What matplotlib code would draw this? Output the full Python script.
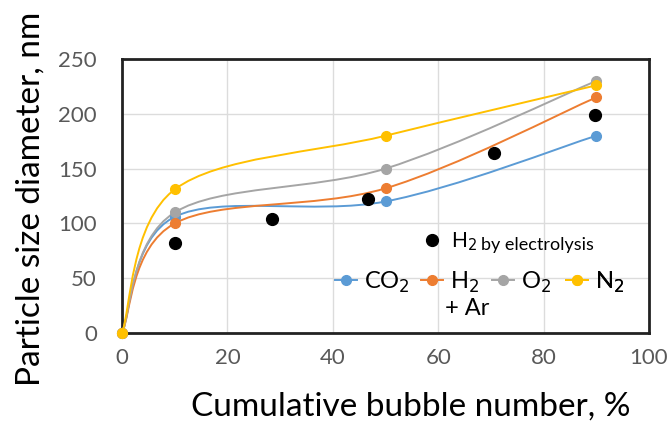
import matplotlib
matplotlib.use("Agg")
import matplotlib.pyplot as plt
import numpy as np
from matplotlib.path import Path
from matplotlib.patches import PathPatch
from matplotlib.lines import Line2D

plt.rcParams['font.family'] = ['Lato', 'DejaVu Sans']

# Data
x_gas = [0, 10, 50, 90]
co2 = [0, 106, 120, 180]
h2_ar = [0, 100, 132, 215]
o2 = [0, 110, 150, 230]
n2 = [0, 131, 180, 226]
x_elec = [10.0, 28.5, 46.6, 70.6, 89.8]
h2_elec = [82, 104, 122, 164, 199]

series = [("CO$_2$", co2, "#5B9BD5"), ("H$_2$", h2_ar, "#ED7D31"),
          ("O$_2$", o2, "#A5A5A5"), ("N$_2$", n2, "#FFC000")]

x_ticks = [0, 20, 40, 60, 80, 100]
y_ticks = [0, 50, 100, 150, 200, 250]


def smooth_path(xs, ys):
    pts = np.column_stack([xs, ys]).astype(float)
    n = len(pts)
    verts = [pts[0]]
    codes = [Path.MOVETO]
    for i in range(n - 1):
        p0 = pts[i - 1] if i > 0 else pts[i]
        p1 = pts[i]
        p2 = pts[i + 1]
        p3 = pts[i + 2] if i + 2 < n else pts[i + 1]
        c1 = p1 + (p2 - p0) / 6.0
        c2 = p2 - (p3 - p1) / 6.0
        verts += [c1, c2, p2]
        codes += [Path.CURVE4] * 3
    return Path(verts, codes)


fig = plt.figure(figsize=(6.72, 4.34), dpi=100)
ax = fig.add_axes([122 / 672, 101 / 434, 527 / 672, 274 / 434])

for label, ys, c in series:
    ax.add_patch(PathPatch(smooth_path(x_gas, ys), facecolor='none',
                           edgecolor=c, lw=1.4, zorder=3))
    ax.plot(x_gas, ys, 'o', color=c, ms=7, zorder=4, clip_on=False)

ax.plot(x_elec, h2_elec, 'o', color='black', ms=8.5, zorder=5)

ax.set_xlim(0, 100)
ax.set_ylim(0, 250)
ax.set_xticks(x_ticks)
ax.set_yticks(y_ticks)
ax.grid(True, color='#DCDCDC', lw=1)
ax.set_axisbelow(True)
ax.tick_params(length=0, labelsize=16, labelcolor='#595959')
ax.tick_params(axis='y', pad=18)
ax.tick_params(axis='x', pad=11)
for s in ax.spines.values():
    s.set_color('#222222')
    s.set_linewidth(2)

ax.set_xlabel("Cumulative bubble number, %", fontsize=24)
ax.xaxis.set_label_coords(0.547, -0.215)
ax.set_ylabel("Particle size diameter, nm", fontsize=24)
ax.yaxis.set_label_coords(-0.145, 0.49)

# legend: electrolysis
h_el = Line2D([], [], marker='o', color='black', ls='none', ms=8.5)
leg1 = ax.legend([h_el], ["H$_2$"], loc='center left',
                 bbox_to_anchor=(0.573, 0.332), frameon=False, fontsize=15,
                 handletextpad=0.5, handlelength=0.8, borderpad=0,
                 borderaxespad=0)
ax.add_artist(leg1)
ax.annotate("by electrolysis", xy=(1, 0), xycoords=leg1.get_texts()[0],
            xytext=(3, 0), textcoords='offset points', fontsize=13,
            ha='left', va='bottom', zorder=20)

# legend: gas series, one entry each
anchors = [0.404, 0.567, 0.702, 0.842]
for (lab, _, c), xa in zip(series, anchors):
    h = Line2D([], [], marker='o', color=c, ms=7, lw=1.4)
    lg = ax.legend([h], [lab], loc='center left', bbox_to_anchor=(xa, 0.186),
                   frameon=False, fontsize=17, handlelength=0.93,
                   handletextpad=0.3, borderpad=0, borderaxespad=0)
    ax.add_artist(lg)
ax.text(0.613, 0.091, "+ Ar", transform=ax.transAxes, fontsize=17,
        ha='left', va='center')

fig.savefig("out.png", dpi=100)
